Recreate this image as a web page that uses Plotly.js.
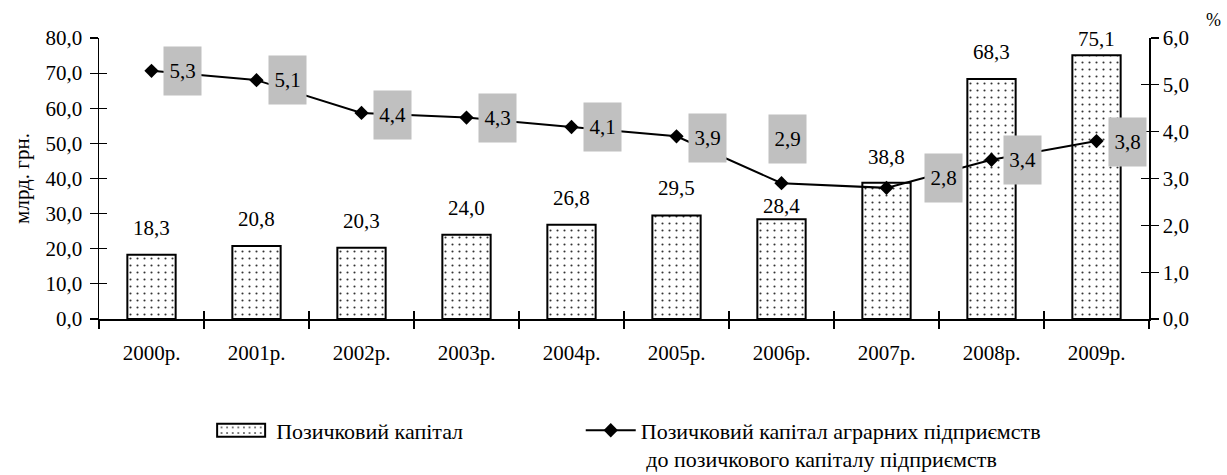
<!DOCTYPE html>
<html>
<head>
<meta charset="utf-8">
<script src="https://cdn.plot.ly/plotly-3.0.1.min.js"></script>
<style>html,body{margin:0;padding:0;background:#fff;}#chart{width:1227px;height:475px;}</style>
</head>
<body>
<div id="chart"></div>
<script>
// ---- data ----
const years = ["2000р.", "2001р.", "2002р.", "2003р.", "2004р.", "2005р.", "2006р.", "2007р.", "2008р.", "2009р."];
const loanCapital = [18.3, 20.8, 20.3, 24.0, 26.8, 29.5, 28.4, 38.8, 68.3, 75.1];
const agrarianShare = [5.3, 5.1, 4.4, 4.3, 4.1, 3.9, 2.9, 2.8, 3.4, 3.8];
const barName = "Позичковий капітал";
const lineName = "Позичковий капітал аграрних підприємств<br> до позичкового капіталу підприємств";
const leftTitle = "млрд. грн.";
const rightUnit = "%";

// ---- label offsets (style, pixels) ----
const barLabelShift = [27, 27, 27, 27, 27, 27, 13, 26, 27, 16];
const lineLabelDX = [31, 31, 31, 31, 31, 31, 6, 57, 31, 31];
const lineLabelDY = [0, 0, -2, 0, 0, -2, 44, 10, 0, -1];

const FONT = "Liberation Serif";
const fmt = v => v.toFixed(1).replace('.', ',');
const nulls = years.map(() => null);

const traces = [
  {
    type: 'bar', x: years, y: loanCapital, name: barName,
    xaxis: 'x', yaxis: 'y', width: 0.46,
    marker: {
      color: '#ffffff',
      line: {color: '#000000', width: 2},
      pattern: {shape: '.', fgcolor: '#333333', bgcolor: '#ffffff', size: 7, solidity: 0.07}
    },
    legend: 'legend', hoverinfo: 'skip'
  },
  {
    type: 'scatter', mode: 'lines+markers', x: years, y: agrarianShare, name: lineName,
    xaxis: 'x2', yaxis: 'y2',
    line: {color: '#000000', width: 2},
    marker: {symbol: 'diamond', size: 11, color: '#000000'},
    legend: 'legend2', hoverinfo: 'skip'
  },
  {type: 'scatter', mode: 'lines', x: years, y: nulls, xaxis: 'x', yaxis: 'y3', showlegend: false, hoverinfo: 'skip'},
  {type: 'scatter', mode: 'lines', x: years, y: nulls, xaxis: 'x', yaxis: 'y4', showlegend: false, hoverinfo: 'skip'}
];

const annotations = [];
years.forEach((yr, i) => {
  annotations.push({
    x: yr, y: loanCapital[i], xref: 'x', yref: 'y',
    text: fmt(loanCapital[i]), showarrow: false,
    xanchor: 'center', yanchor: 'middle', yshift: barLabelShift[i],
    font: {family: FONT, size: 21, color: '#000'}
  });
  annotations.push({
    x: yr, y: agrarianShare[i], xref: 'x2', yref: 'y2',
    text: fmt(agrarianShare[i]), showarrow: false,
    xanchor: 'center', yanchor: 'middle',
    xshift: lineLabelDX[i], yshift: lineLabelDY[i],
    width: 37, height: 48, borderpad: 0,
    bgcolor: '#c0c0c0',
    font: {family: FONT, size: 21, color: '#000'}
  });
});
annotations.push({
  text: rightUnit, xref: 'paper', yref: 'paper', x: 1.061, y: 1.064,
  xanchor: 'center', yanchor: 'middle', showarrow: false,
  font: {family: FONT, size: 18, color: '#000'}
});

const common = {showgrid: false, zeroline: false, color: '#000'};
const layout = {
  width: 1227, height: 475,
  margin: {l: 99, r: 78, t: 38, b: 156},
  paper_bgcolor: '#ffffff', plot_bgcolor: '#ffffff',
  separators: ', ',
  font: {family: FONT, size: 21, color: '#000'},
  xaxis: Object.assign({}, common, {
    type: 'category', range: [-0.5, 9.5],
    showline: true, linecolor: '#000', linewidth: 1.5,
    ticks: 'outside', ticklen: 8, tickwidth: 1.2, tickcolor: '#000',
    tickson: 'boundaries', ticklabelstandoff: 14,
    tickfont: {family: FONT, size: 21}
  }),
  xaxis2: Object.assign({}, common, {
    type: 'category', range: [-0.5, 9.5], overlaying: 'x', anchor: 'y',
    showline: false, ticks: 'inside', ticklen: 8, tickwidth: 1.2, tickcolor: '#000',
    tickson: 'boundaries', showticklabels: false
  }),
  yaxis: Object.assign({}, common, {
    range: [0, 80], dtick: 10, tickformat: '.1f',
    showline: true, linecolor: '#000', linewidth: 1.5,
    ticks: 'outside', ticklen: 8, tickwidth: 1.2, tickcolor: '#000',
    ticklabelstandoff: 3,
    tickfont: {family: FONT, size: 21},
    title: {text: leftTitle, font: {family: FONT, size: 21}, standoff: 10}
  }),
  yaxis2: Object.assign({}, common, {
    range: [0, 6], dtick: 1, tickformat: '.1f', overlaying: 'y', side: 'right', anchor: 'x',
    showline: true, linecolor: '#000', linewidth: 1.5,
    ticks: 'outside', ticklen: 8, tickwidth: 1.2, tickcolor: '#000',
    ticklabelstandoff: 0,
    tickfont: {family: FONT, size: 21}
  }),
  yaxis3: Object.assign({}, common, {
    range: [0, 80], dtick: 10, overlaying: 'y', side: 'left', anchor: 'x',
    showline: false, ticks: 'inside', ticklen: 8, tickwidth: 1.2, tickcolor: '#000',
    showticklabels: false
  }),
  yaxis4: Object.assign({}, common, {
    range: [0, 6], dtick: 1, overlaying: 'y', side: 'right', anchor: 'x',
    showline: false, ticks: 'inside', ticklen: 8, tickwidth: 1.2, tickcolor: '#000',
    showticklabels: false
  }),
  legend: {
    xref: 'container', yref: 'container', x: 0.168, y: 0.138, xanchor: 'left', yanchor: 'top',
    orientation: 'h', bgcolor: 'rgba(0,0,0,0)', borderwidth: 0, valign: 'top',
    font: {family: FONT, size: 22, color: '#000'}, itemwidth: 60
  },
  legend2: {
    xref: 'container', yref: 'container', x: 0.4733, y: 0.138, xanchor: 'left', yanchor: 'top',
    orientation: 'h', bgcolor: 'rgba(0,0,0,0)', borderwidth: 0, valign: 'top',
    font: {family: FONT, size: 22, color: '#000'}, itemwidth: 50
  },
  annotations: annotations,
  showlegend: true,
  bargap: 0.54
};

Plotly.newPlot('chart', traces, layout, {staticPlot: true, displayModeBar: false}).then(gd => {
  // widen the bar legend swatch to a flat rectangle like the reference
  gd.querySelectorAll('.legend .legendpoints path').forEach(p => {
    const d = p.getAttribute('d') || '';
    if (d.indexOf('M6,6H-6V-6H6Z') === 0) {
      p.setAttribute('d', 'M-24,6.5H24V-6.5H-24Z');
    }
  });
});
</script>
</body>
</html>
